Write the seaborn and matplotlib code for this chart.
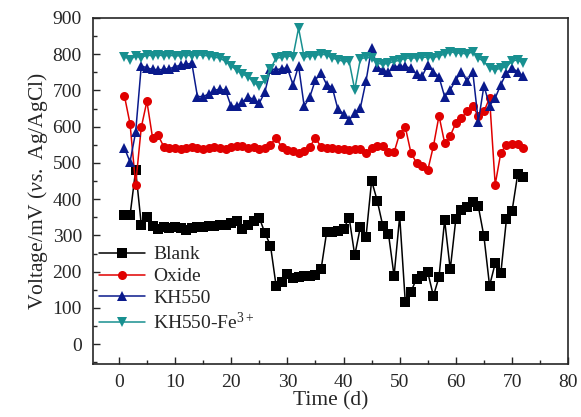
import numpy as np
import pandas as pd
import seaborn as sns
import matplotlib
matplotlib.use("Agg")
import matplotlib.pyplot as plt
from matplotlib.ticker import MultipleLocator

days = list(range(1, 73))

blank = [355, 355, 480, 330, 350, 325, 318, 322, 320, 322, 320, 315, 320, 322, 323, 325, 327, 330,
         328, 335, 339, 317, 330, 339, 349, 307, 272, 161, 170, 193, 183, 186, 187, 188, 190, 206,
         309, 310, 312, 317, 349, 245, 323, 295, 451, 396, 326, 305, 188, 353, 115, 144, 181, 187,
         198, 133, 185, 342, 206, 346, 370, 377, 392, 380, 297, 161, 223, 195, 344, 367, 468, 460]

oxide = [685, 608, 440, 598, 670, 570, 576, 545, 540, 542, 538, 540, 543, 540, 538, 542, 545, 540,
         538, 543, 548, 546, 541, 545, 537, 541, 550, 570, 543, 535, 532, 527, 532, 545, 568, 545,
         541, 540, 537, 537, 536, 537, 537, 528, 541, 546, 546, 530, 529, 581, 599, 528, 500, 491,
         480, 546, 630, 555, 575, 610, 624, 642, 656, 630, 642, 679, 440, 528, 550, 553, 552, 541]

kh550 = [541, 503, 585, 768, 762, 758, 757, 758, 760, 765, 770, 772, 775, 683, 683, 690, 700, 704,
         700, 656, 657, 668, 682, 675, 665, 695, 760, 757, 760, 762, 716, 768, 656, 682, 729, 748,
         716, 708, 648, 635, 618, 638, 652, 725, 817, 765, 755, 750, 766, 766, 766, 761, 745, 739,
         771, 752, 737, 683, 702, 729, 752, 725, 752, 614, 713, 658, 679, 716, 748, 761, 752, 739]

kh550_fe = [793, 785, 795, 790, 798, 795, 798, 795, 797, 795, 796, 797, 796, 798, 797, 795, 792, 789,
            780, 768, 755, 745, 738, 722, 712, 728, 760, 789, 791, 795, 793, 872, 791, 795, 796, 800,
            798, 789, 785, 780, 780, 702, 787, 791, 789, 775, 772, 775, 780, 783, 789, 789, 790, 791,
            792, 790, 795, 800, 807, 803, 803, 800, 807, 789, 780, 761, 757, 761, 766, 780, 785, 775]

names = ["Blank", "Oxide", "KH550", "KH550-Fe$^{3+}$"]
series = [blank, oxide, kh550, kh550_fe]
colors = ["#000000", "#e00000", "#0a1a8c", "#189090"]
marks = ["s", "o", "^", "v"]

df = pd.concat([pd.DataFrame({"Time": days, "Voltage": v, "Sample": n})
                for n, v in zip(names, series)], ignore_index=True)

sns.set_style("ticks")
plt.rcParams["font.family"] = ["Liberation Serif", "DejaVu Serif"]
plt.rcParams["mathtext.fontset"] = "custom"
plt.rcParams["mathtext.rm"] = "Liberation Serif"
plt.rcParams["mathtext.it"] = "Liberation Serif:italic"
plt.rcParams["mathtext.default"] = "rm"

fig = plt.figure(figsize=(5.81, 4.17), dpi=100)
ax = fig.add_axes([0.160, 0.127, 0.818, 0.830])

sns.lineplot(data=df, x="Time", y="Voltage", hue="Sample", style="Sample",
             palette=dict(zip(names, colors)), markers=dict(zip(names, marks)),
             dashes=False, markersize=6.5, markeredgewidth=0, linewidth=1.1, ax=ax)

ax.set_xlim(-4.6, 80)
ax.set_ylim(-55, 900)
ax.xaxis.set_major_locator(MultipleLocator(10))
ax.xaxis.set_minor_locator(MultipleLocator(5))
ax.yaxis.set_major_locator(MultipleLocator(100))
ax.yaxis.set_minor_locator(MultipleLocator(50))
ax.tick_params(which="both", direction="in", top=False, right=False, labelsize=14)
ax.tick_params(which="major", length=5, width=1)
ax.tick_params(which="minor", length=3, width=1)
ax.tick_params(axis="x", pad=7)
ax.tick_params(axis="y", pad=8)
for s in ax.spines.values():
    s.set_linewidth(1.2)

ax.set_xlabel("Time (d)", fontsize=15.5, labelpad=0)
ax.set_ylabel(r"Voltage/mV ($\mathit{vs.}$ Ag/AgCl)", fontsize=15.5, labelpad=2)

leg = ax.legend(loc="lower left", bbox_to_anchor=(-0.025, 0.04), frameon=False,
                fontsize=14, handlelength=2.4, handletextpad=0.4, labelspacing=0.22)

fig.savefig("out.png", dpi=100)
